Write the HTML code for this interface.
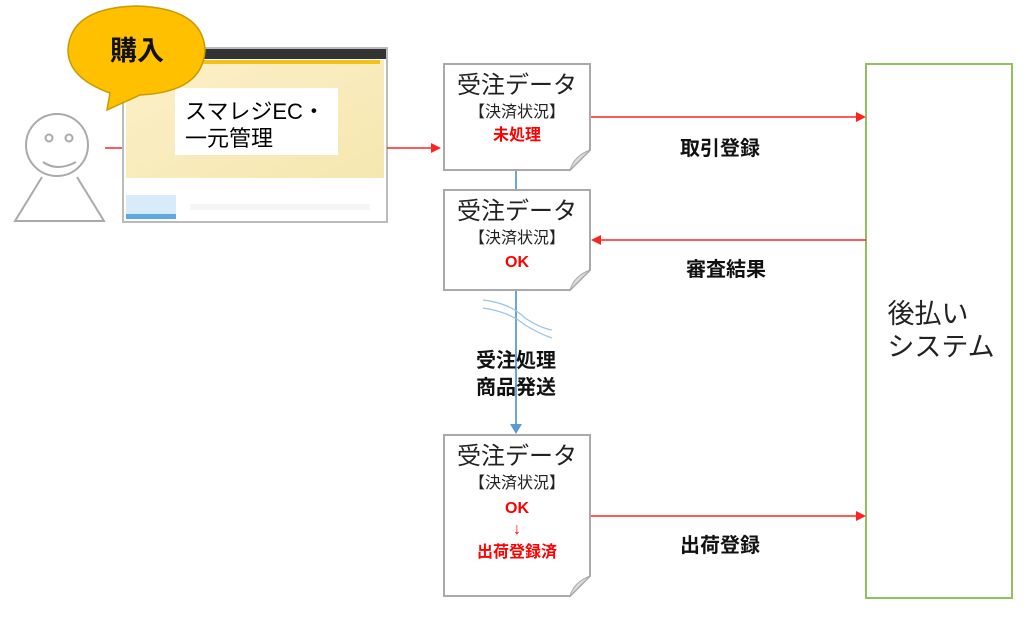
<!DOCTYPE html>
<html><head><meta charset="utf-8"><style>
body{margin:0;width:1024px;height:618px;background:#fff;overflow:hidden;font-family:"Liberation Sans","Noto Sans CJK JP",sans-serif;}
</style></head><body>
<svg width="1024" height="618" xmlns="http://www.w3.org/2000/svg" font-family="Liberation Sans, Noto Sans CJK JP, sans-serif">
<defs>
<linearGradient id="y" x1="0" y1="0" x2="1" y2="1"><stop offset="0" stop-color="#fbf0c8"/><stop offset="1" stop-color="#f6e7b0"/></linearGradient>
</defs>
<!-- person -->
<circle cx="57" cy="145" r="31" fill="#fff" stroke="#aaa" stroke-width="2"/>
<circle cx="49" cy="138" r="3.5" fill="none" stroke="#aaa" stroke-width="2"/>
<circle cx="69" cy="138" r="3.5" fill="none" stroke="#aaa" stroke-width="2"/>
<path d="M43 162 Q57 172 76 162" fill="none" stroke="#aaa" stroke-width="2"/>
<path d="M42 177 L15 221 L104 221 L77 177" fill="#fff" stroke="#aaa" stroke-width="2"/>
<line x1="105" y1="148" x2="123" y2="148" stroke="#f22" stroke-width="1.5"/>
<!-- screenshot -->
<rect x="123" y="48" width="264" height="174" fill="#fff" stroke="#bbb" stroke-width="2"/>
<rect x="124" y="49" width="262" height="10" fill="#333"/>
<rect x="126" y="60" width="258" height="118" fill="url(#y)"/>
<rect x="190" y="60" width="190" height="4" fill="#f2c21a"/>
<rect x="126" y="195" width="50" height="24" fill="#d8ebf8"/>
<rect x="126" y="214" width="50" height="5" fill="#5aa8e6"/>
<rect x="190" y="204" width="180" height="6" fill="#f5f5f5"/>
<rect x="175" y="88" width="163" height="67" fill="#fff"/>
<text x="185" y="119" font-size="22" fill="#000">スマレジEC・</text>
<text x="185" y="146" font-size="22" fill="#000">一元管理</text>
<!-- bubble -->
<path d="M107 110 L110 93 Q68 78 68 50 Q70 8 136 6 Q203 8 205 50 Q203 92 140 95 Z" fill="#ffc000" stroke="#c99a00" stroke-width="1.5"/>
<text x="137" y="60" font-size="27" font-weight="bold" text-anchor="middle" fill="#111">購入</text>
<line x1="387" y1="148" x2="432" y2="148" stroke="#f22" stroke-width="1.5"/>
<polygon points="441,148 431,143 431,153" fill="#f22"/>
<!-- blue line -->
<line x1="516" y1="170" x2="516" y2="425" stroke="#5b9bd5" stroke-width="1.8"/>
<polygon points="516,434 510,424 522,424" fill="#5b9bd5"/>
<path d="M483 300 Q510 303 525 318 Q540 328 552 330" fill="none" stroke="#9cc3e6" stroke-width="1.3"/>
<path d="M483 308 Q510 312 525 325 Q540 334 552 338" fill="none" stroke="#9cc3e6" stroke-width="1.3"/>
<text x="516" y="367" font-size="20" font-weight="bold" text-anchor="middle" fill="#111">受注処理</text>
<text x="516" y="394" font-size="20" font-weight="bold" text-anchor="middle" fill="#111">商品発送</text>
<!-- docs -->
<g stroke="#aaa" stroke-width="2" fill="#fff">
<path d="M444 64 H590 V150 L570 170 H444 Z"/>
<path d="M444 190 H590 V270 L570 290 H444 Z"/>
<path d="M444 435 H590 V576 L570 596 H444 Z"/>
</g>
<g fill="#ddd" stroke="#aaa" stroke-width="1">
<path d="M590 150 L570 170 Q574 156 590 150Z"/>
<path d="M590 270 L570 290 Q574 276 590 270Z"/>
<path d="M590 576 L570 596 Q574 582 590 576Z"/>
</g>
<g text-anchor="middle">
<text x="517" y="93" font-size="24" fill="#222">受注データ</text>
<text x="517" y="117" font-size="16" fill="#222">【決済状況】</text>
<text x="517" y="140" font-size="16" font-weight="bold" fill="#f00">未処理</text>
<text x="517" y="219" font-size="24" fill="#222">受注データ</text>
<text x="517" y="243" font-size="16" fill="#222">【決済状況】</text>
<text x="517" y="267" font-size="16" font-weight="bold" fill="#f00">OK</text>
<text x="517" y="464" font-size="24" fill="#222">受注データ</text>
<text x="517" y="488" font-size="16" fill="#222">【決済状況】</text>
<text x="517" y="513" font-size="16" font-weight="bold" fill="#f00">OK</text>
<text x="517" y="534" font-size="16" font-weight="bold" fill="#f00">↓</text>
<text x="517" y="557" font-size="16" font-weight="bold" fill="#f00">出荷登録済</text>
</g>
<!-- right system -->
<rect x="866" y="64" width="146" height="534" fill="#fff" stroke="#8fc25c" stroke-width="2"/>
<text x="928" y="323" font-size="27" text-anchor="middle" fill="#222">後払い</text>
<text x="941" y="356" font-size="27" text-anchor="middle" fill="#222">システム</text>
<!-- red arrows -->
<g stroke="#f22" stroke-width="1.5">
<line x1="591" y1="117" x2="857" y2="117"/>
<line x1="600" y1="240" x2="866" y2="240"/>
<line x1="591" y1="516" x2="857" y2="516"/>
</g>
<g fill="#f22">
<polygon points="866,117 856,112 856,122"/>
<polygon points="591,240 601,235 601,245"/>
<polygon points="866,516 856,511 856,521"/>
</g>
<g font-size="20" font-weight="bold" fill="#111">
<text x="680" y="155">取引登録</text>
<text x="686" y="276">審査結果</text>
<text x="680" y="552">出荷登録</text>
</g>
</svg>
</body></html>
